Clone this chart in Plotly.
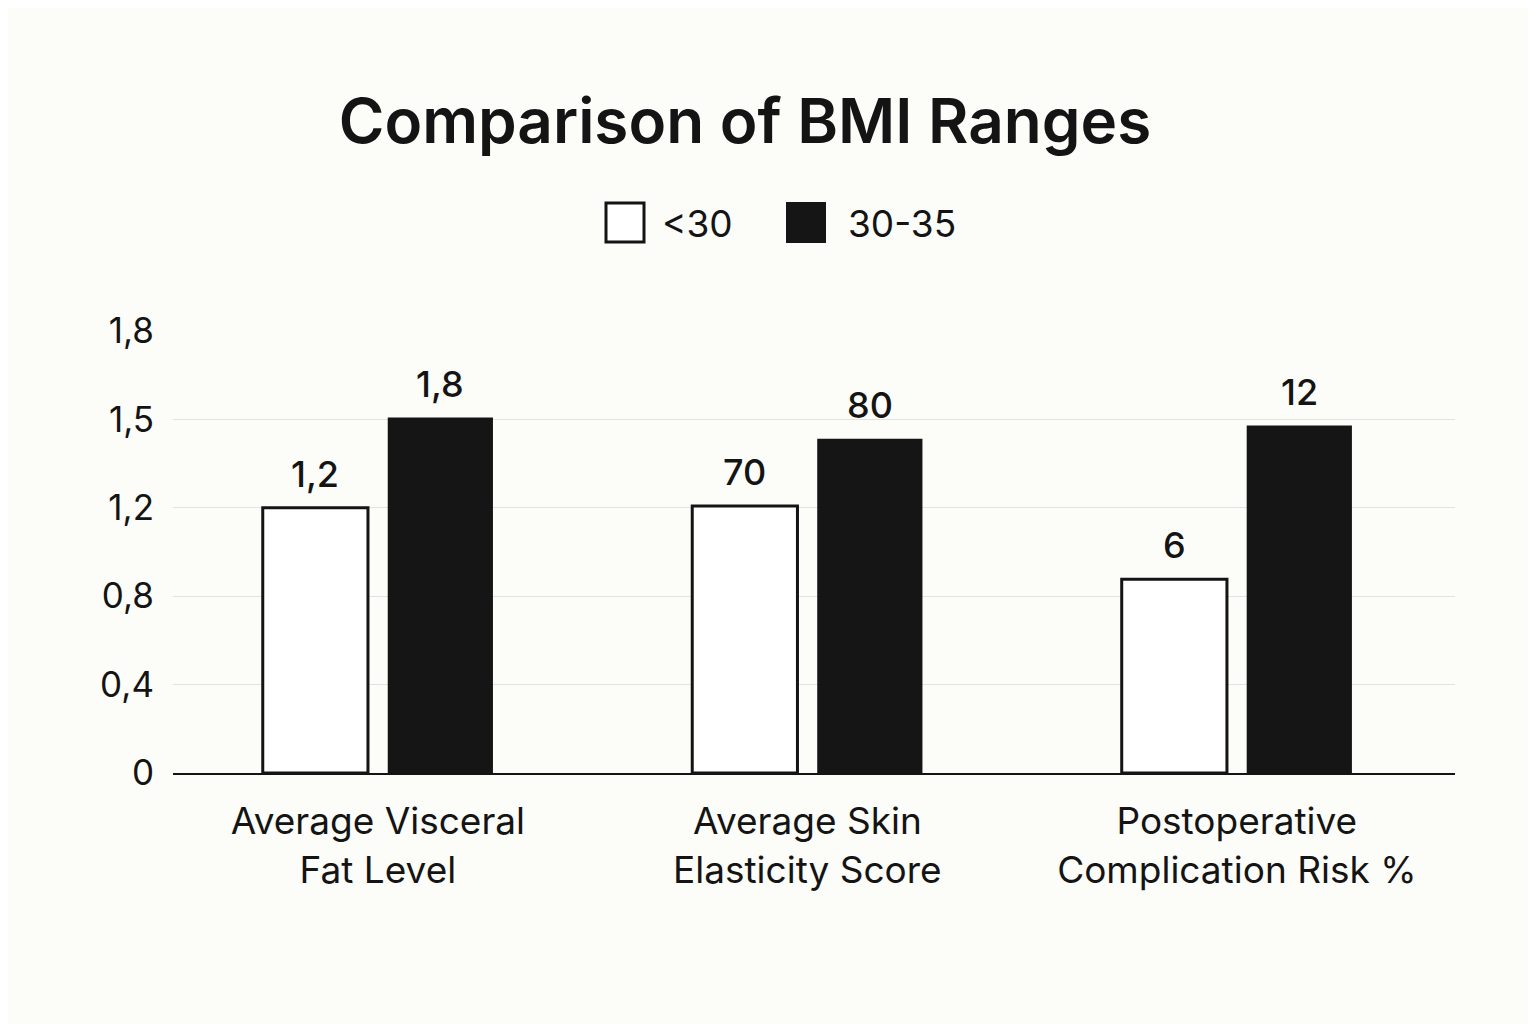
import plotly.graph_objects as go

# ---- data ----
categories = ["Average Visceral<br>Fat Level", "Average Skin<br>Elasticity Score", "Postoperative<br>Complication Risk %"]
series_names = ["<30", "30-35"]
# bar heights as drawn, in axis (gridline) units
heights_lt30 = [3.0, 3.02, 2.19]
heights_30_35 = [4.02, 3.78, 3.93]
# value labels printed above bars
labels_lt30 = ["1,2", "70", "6"]
labels_30_35 = ["1,8", "80", "12"]
# y axis ticks
tick_vals = [0, 1, 2, 3, 4, 5]
tick_text = ["0", "0,4", "0,8", "1,2", "1,5", "1,8"]

BG = "#fcfcf8"
INK = "#141414"
FONT = "Inter"

# page body has an 8px margin; target coordinates are in the 1536x1024 screenshot
OX, OY = 8, 8
W, H = 1536 - OX, 1024 - OY
L = 173 - OX
T = 330 - OY
R = 1536 - 1455
B = 1024 - 773
plot_w = W - L - R
plot_h = H - T - B

bar_w = 0.245
off = 0.1455  # center offset of each bar from category center

fig = go.Figure()
fig.add_trace(go.Bar(
    x=list(range(len(categories))), y=heights_lt30, name=series_names[0],
    width=bar_w, offset=-off - bar_w / 2,
    marker=dict(color="#ffffff", line=dict(color=INK, width=3)),
    showlegend=False, hoverinfo="skip",
))
fig.add_trace(go.Bar(
    x=list(range(len(categories))), y=heights_30_35, name=series_names[1],
    width=bar_w, offset=off - bar_w / 2,
    marker=dict(color="#151515", line=dict(width=0)),
    showlegend=False, hoverinfo="skip",
))

annotations = []
for i in range(len(categories)):
    annotations.append(dict(x=i - off, y=heights_lt30[i], text=labels_lt30[i], xref="x", yref="y",
                            showarrow=False, yanchor="bottom", yshift=10,
                            font=dict(family=FONT, size=36, color=INK, weight=500)))
    annotations.append(dict(x=i + off, y=heights_30_35[i], text=labels_30_35[i], xref="x", yref="y",
                            showarrow=False, yanchor="bottom", yshift=10,
                            font=dict(family=FONT, size=36, color=INK, weight=500)))

# legend drawn manually (screenshot pixel -> paper)
def px(xp):
    return (xp - OX - L) / plot_w

def py(yp):
    return (H - B - (yp - OY)) / plot_h

shapes = [
    dict(type="rect", xref="paper", yref="paper", x0=px(606), x1=px(644), y0=py(242), y1=py(203),
         fillcolor="#ffffff", line=dict(color=INK, width=3)),
    dict(type="rect", xref="paper", yref="paper", x0=px(786), x1=px(826), y0=py(243), y1=py(202),
         fillcolor="#151515", line=dict(width=0)),
]
annotations.append(dict(x=px(660), y=py(223), xref="paper", yref="paper", text=series_names[0],
                        showarrow=False, xanchor="left", yanchor="middle",
                        font=dict(family=FONT, size=37, color=INK)))
annotations.append(dict(x=px(846), y=py(223), xref="paper", yref="paper", text=series_names[1],
                        showarrow=False, xanchor="left", yanchor="middle",
                        font=dict(family=FONT, size=37, color=INK)))

fig.update_layout(
    width=W, height=H,
    margin=dict(l=L, r=R, t=T, b=B),
    paper_bgcolor=BG, plot_bgcolor=BG,
    barmode="overlay",
    title=dict(text="Comparison of BMI Ranges", x=(745 - OX) / W, xanchor="center",
               y=1 - (121 - OY) / H, yanchor="middle", yref="container", xref="container",
               font=dict(family=FONT, size=62, color=INK, weight=600)),
    xaxis=dict(
        tickmode="array", tickvals=list(range(len(categories))), ticktext=categories,
        range=[-0.477, 2.508], showgrid=False, zeroline=False,
        showline=True, linecolor=INK, linewidth=2, ticks="", ticklabelstandoff=15,
        tickfont=dict(family=FONT, size=37, color=INK),
    ),
    yaxis=dict(
        tickmode="array", tickvals=tick_vals, ticktext=tick_text,
        range=[0, 5.01], showgrid=True, gridcolor="#e2e2e0", gridwidth=1,
        zeroline=False, showline=False, ticks="", ticklabelstandoff=18,
        tickfont=dict(family=FONT, size=35, color=INK),
    ),
    shapes=shapes,
    annotations=annotations,
    font=dict(family=FONT, color=INK),
)

fig.write_html("out.html")
